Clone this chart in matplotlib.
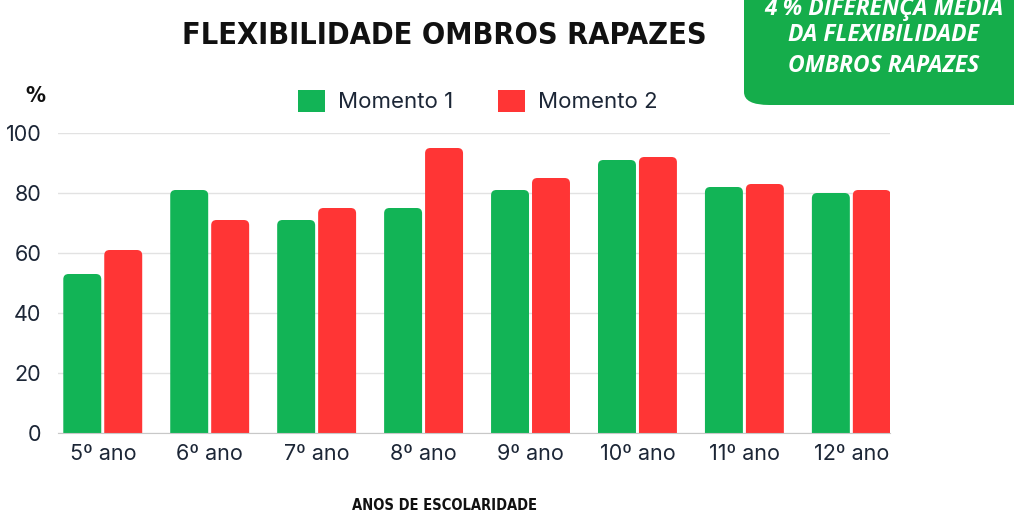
import numpy as np
import matplotlib.pyplot as plt
from matplotlib.patches import FancyBboxPatch

anos = ['5º ano', '6º ano', '7º ano', '8º ano', '9º ano', '10º ano', '11º ano', '12º ano']
momento1 = [53, 81, 71, 75, 81, 91, 82, 80]
momento2 = [61, 71, 75, 95, 85, 92, 83, 81]

verde = '#12b456'
vermelho = '#ff3535'
texto = '#1c2636'

fig = plt.figure(figsize=(10.14, 5.15), dpi=100)
ax = fig.add_axes([58/1014, 82/515, 832/1014, 300/515])

x = np.arange(len(anos))
w = 0.355
b1 = ax.bar(x - 0.193, momento1, w, color=verde, label='Momento 1', zorder=3)
b2 = ax.bar(x + 0.19, momento2, w, color=vermelho, label='Momento 2', zorder=3)

# cantos arredondados em cima
for bars in (b1, b2):
    for r in bars:
        r.set_visible(False)
        bx, by = r.get_x(), r.get_y()
        fb = FancyBboxPatch((bx, by - 5), r.get_width(), r.get_height() + 5,
                            boxstyle='round,pad=0,rounding_size=0.05', mutation_aspect=35,
                            facecolor=r.get_facecolor(), edgecolor='none', zorder=3)
        ax.add_patch(fb)

ax.set_xlim(-0.42, 7.36)
ax.set_ylim(0, 100)
ax.set_yticks([0, 20, 40, 60, 80, 100])
ax.set_xticks(x)
ax.set_xticklabels(anos)
ax.tick_params(length=0, labelsize=15.5, labelcolor=texto, pad=8)
ax.tick_params(axis='y', pad=12)
for lab in ax.get_xticklabels() + ax.get_yticklabels():
    lab.set_family('Inter')
ax.grid(axis='y', color='#e2e2e2', lw=1, zorder=0)
for s in ['top', 'right', 'left']:
    ax.spines[s].set_visible(False)
ax.spines['bottom'].set_color('#c8c8c8')
ax.spines['bottom'].set_zorder(4)

leg = fig.legend(handles=[b1, b2], loc='center', bbox_to_anchor=(478/1014, 1 - 101/515), ncol=2,
                 frameon=False, prop={'family': 'Inter', 'size': 16},
                 handlelength=1.2, handleheight=1.2, columnspacing=2.0, handletextpad=0.6)
for t in leg.get_texts():
    t.set_color(texto)
for h in leg.legend_handles:
    h.set_visible(True)

fig.text(444/1014, 1 - 35/515, 'FLEXIBILIDADE OMBROS RAPAZES', ha='center', va='center',
         family='DejaVu Sans', stretch='condensed', weight='bold', fontsize=22, color='#111111')
fig.text(35/1014, 1 - 96/515, '%', ha='center', va='center',
         family='DejaVu Sans', stretch='condensed', weight='bold', fontsize=16, color='#111111')
fig.text(445/1014, 1 - 505/515, 'ANOS DE ESCOLARIDADE', ha='center', va='center',
         family='DejaVu Sans', stretch='condensed', weight='bold', fontsize=10.5, color='#111111')

caixa = FancyBboxPatch((744/1014, 1 - 105/515), 300/1014, 140/515,
                       boxstyle='round,pad=0,rounding_size=0.025', transform=fig.transFigure,
                       facecolor='#15ad4b', edgecolor='none')
fig.add_artist(caixa)
for yy, s in [(7, '4 % DIFERENÇA MÉDIA'), (35, 'DA FLEXIBILIDADE'), (66, 'OMBROS RAPAZES')]:
    fig.text(884/1014, 1 - yy/515, s, ha='center', va='center', color='white',
             family='Open Sans', weight='bold', style='italic', fontsize=16.5)

fig.savefig('out.png', dpi=100)
